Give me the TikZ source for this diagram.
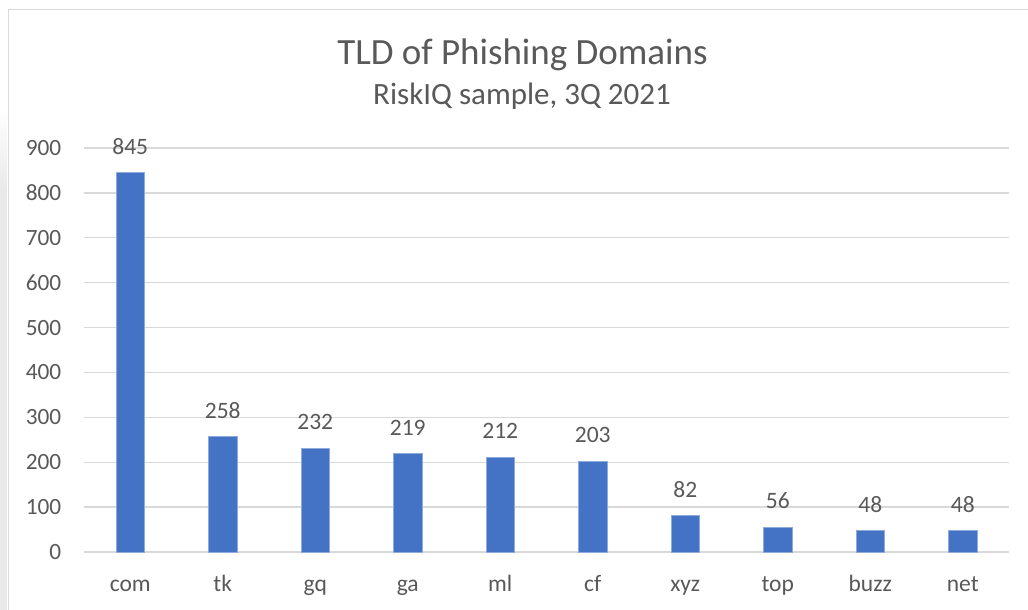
\documentclass[tikz,border=0pt]{standalone}
\usepackage{fontspec}
\setmainfont{Carlito}
\definecolor{barblue}{HTML}{4472C4}
\definecolor{txtgray}{HTML}{595959}
\definecolor{gridgray}{HTML}{D9D9D9}
\definecolor{edgegray}{HTML}{E9E9E9}
\tikzset{
  gridline/.style={draw=gridgray, line width=1.3pt},
  barbox/.style={fill=barblue, draw=barblue!60!white, line width=0.6pt},
  ticklabel/.style={text=txtgray, font=\fontsize{23.3}{26}\selectfont, anchor=east, inner sep=0pt},
  datalabel/.style={text=txtgray, font=\fontsize{23.5}{26}\selectfont, anchor=base, inner sep=0pt},
  catlabel/.style={text=txtgray, font=\fontsize{23.5}{26}\selectfont, anchor=base, inner sep=0pt},
}
\begin{document}
\begin{tikzpicture}[x=1pt,y=-1pt]
\useasboundingbox (0,0) rectangle (1028,610);
\fill[white] (0,0) rectangle (1028,610);
% left shadow strip
\shade[top color=white, bottom color=edgegray] (0,110) rectangle (7,190);
\fill[edgegray] (0,190) rectangle (7,610);
% chart border
\draw[draw=gridgray, line width=1.5pt] (8.5,610) -- (8.5,9.5) -- (1028,9.5);
% titles
\node[text=txtgray, font=\fontsize{37}{40}\selectfont, anchor=base, inner sep=0pt] (title) at (522.5,65) {TLD of Phishing Domains};
\node[text=txtgray, font=\fontsize{31}{34}\selectfont, anchor=base, inner sep=0pt] (subtitle) at (522,104) {RiskIQ sample, 3Q 2021};
% grid and ticks
\foreach \v in {0,100,...,900}{
  \draw[gridline] (84,{552-\v*0.44889}) -- (1009,{552-\v*0.44889});
  \node[ticklabel] (tick\v) at (61.5,{552-\v*0.44889}) {\v};
}
% bars
\foreach \nm/\val [count=\i from 0] in {com/845,tk/258,gq/232,ga/219,ml/212,cf/203,xyz/82,top/56,buzz/48,net/48}{
  \pgfmathsetmacro{\xc}{130.25+\i*92.5}
  \pgfmathsetmacro{\yt}{552-\val*0.44889}
  \filldraw[barbox] (\xc-14.25,552) rectangle (\xc+14.25,\yt);
  \node[datalabel] (val\nm) at (\xc,\yt-18) {\val};
  \node[catlabel] (cat\nm) at (\xc,591) {\nm};
}
\end{tikzpicture}
\end{document}
